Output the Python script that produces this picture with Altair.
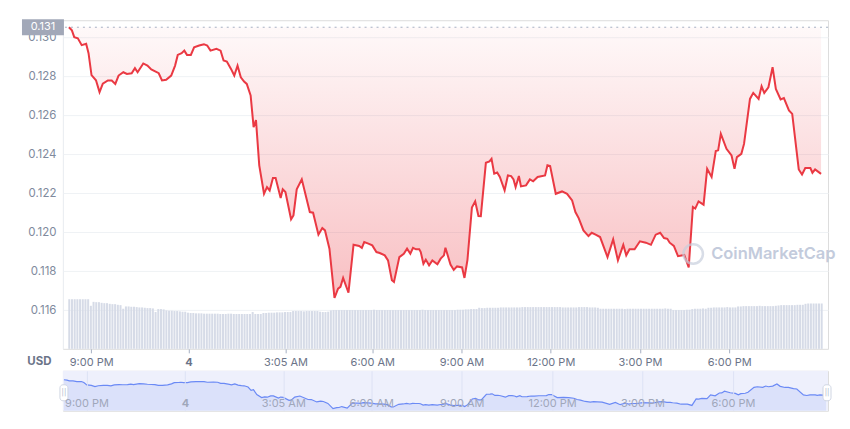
import altair as alt
import pandas as pd

# ---------------- data ----------------
hours = [
    -4.20, -4.10, -4.02, -3.90, -3.77, -3.62, -3.54, -3.44, -3.29, -3.17,
    -3.06, -2.89, -2.76, -2.64, -2.53, -2.37, -2.25, -2.09, -1.98, -1.89,
    -1.70, -1.56, -1.43, -1.18, -1.07, -0.93, -0.76, -0.63, -0.54, -0.41,
    -0.32, -0.23, -0.10, 0.01, 0.18, 0.34, 0.45, 0.56, 0.76, 0.90,
    1.00, 1.11, 1.25, 1.36, 1.47, 1.58, 1.69, 1.78, 1.91, 2.01,
    2.09, 2.20, 2.36, 2.46, 2.55, 2.66, 2.75, 2.92, 2.99, 3.08,
    3.27, 3.35, 3.46, 3.63, 3.90, 4.01, 4.19, 4.32, 4.41, 4.56,
    4.73, 4.85, 4.93, 5.02, 5.20, 5.37, 5.56, 5.65, 5.73, 5.87,
    6.00, 6.14, 6.25, 6.42, 6.53, 6.66, 6.73, 6.91, 7.06, 7.17,
    7.28, 7.37, 7.47, 7.58, 7.63, 7.72, 7.80, 7.91, 8.02, 8.19,
    8.30, 8.41, 8.46, 8.63, 8.74, 8.85, 9.02, 9.10, 9.20, 9.35,
    9.46, 9.57, 9.65, 9.82, 9.94, 10.01, 10.10, 10.20, 10.29, 10.45,
    10.56, 10.67, 10.75, 10.82, 10.93, 11.00, 11.17, 11.30, 11.41, 11.56,
    11.81, 11.89, 11.98, 12.17, 12.38, 12.55, 12.72, 12.83, 12.94, 13.10,
    13.27, 13.38, 13.51, 13.66, 13.91, 14.10, 14.26, 14.44, 14.54, 14.65,
    14.82, 15.00, 15.20, 15.37, 15.53, 15.68, 15.81, 15.92, 16.00, 16.14,
    16.28, 16.49, 16.64, 16.78, 16.86, 16.97, 17.14, 17.26, 17.41, 17.55,
    17.63, 17.72, 17.91, 18.08, 18.18, 18.26, 18.41, 18.50, 18.70, 18.81,
    18.99, 19.09, 19.18, 19.32, 19.46, 19.57, 19.73, 19.84, 20.01, 20.12,
    20.34, 20.45, 20.56, 20.73, 20.80, 20.89, 21.09,
]

prices = [
    0.13053, 0.13037, 0.13002, 0.12996, 0.12961, 0.12968, 0.12920, 0.12807, 0.12781, 0.12720,
    0.12763, 0.12780, 0.12780, 0.12762, 0.12805, 0.12822, 0.12813, 0.12817, 0.12843, 0.12822,
    0.12867, 0.12856, 0.12836, 0.12817, 0.12780, 0.12783, 0.12805, 0.12856, 0.12911, 0.12920,
    0.12933, 0.12911, 0.12911, 0.12950, 0.12959, 0.12966, 0.12959, 0.12933, 0.12942, 0.12933,
    0.12882, 0.12877, 0.12839, 0.12805, 0.12856, 0.12796, 0.12774, 0.12762, 0.12703, 0.12540,
    0.12576, 0.12344, 0.12198, 0.12232, 0.12215, 0.12279, 0.12279, 0.12176, 0.12221, 0.12207,
    0.12067, 0.12087, 0.12221, 0.12272, 0.12104, 0.12101, 0.11988, 0.12022, 0.12010, 0.11916,
    0.11663, 0.11711, 0.11720, 0.11766, 0.11690, 0.11936, 0.11930, 0.11920, 0.11950, 0.11942,
    0.11933, 0.11899, 0.11894, 0.11882, 0.11856, 0.11754, 0.11745, 0.11873, 0.11890, 0.11916,
    0.11890, 0.11920, 0.11913, 0.11913, 0.11899, 0.11839, 0.11860, 0.11831, 0.11856, 0.11836,
    0.11865, 0.11882, 0.11921, 0.11835, 0.11807, 0.11825, 0.11820, 0.11766, 0.11858, 0.12127,
    0.12159, 0.12084, 0.12083, 0.12357, 0.12364, 0.12377, 0.12301, 0.12307, 0.12284, 0.12215,
    0.12292, 0.12289, 0.12272, 0.12232, 0.12289, 0.12236, 0.12241, 0.12272, 0.12262, 0.12284,
    0.12292, 0.12344, 0.12340, 0.12198, 0.12210, 0.12198, 0.12164, 0.12104, 0.12073, 0.12010,
    0.11981, 0.11998, 0.11988, 0.11976, 0.11873, 0.11964, 0.11856, 0.11936, 0.11882, 0.11913,
    0.11913, 0.11954, 0.11947, 0.11936, 0.11988, 0.11998, 0.11971, 0.11967, 0.11947, 0.11930,
    0.11878, 0.11884, 0.11820, 0.12130, 0.12122, 0.12159, 0.12142, 0.12326, 0.12284, 0.12417,
    0.12421, 0.12506, 0.12429, 0.12395, 0.12326, 0.12386, 0.12403, 0.12454, 0.12685, 0.12716,
    0.12685, 0.12750, 0.12716, 0.12745, 0.12848, 0.12736, 0.12682, 0.12689, 0.12626, 0.12608,
    0.12323, 0.12297, 0.12330, 0.12330, 0.12306, 0.12323, 0.12300,
]

volumes = [
    15.1, 15.1, 15.1, 15.1, 15.1, 15.1, 15.1, 15.1,
    13.1,
    14.3, 14.2, 14.2, 14.0, 13.9, 13.9, 13.7, 13.6, 13.6, 13.4, 13.3,
    12.2,
    12.9, 12.9, 12.8, 12.8, 12.7, 12.6, 12.6, 12.5, 12.4, 12.4, 12.3,
    11.2,
    12.1, 12.1, 12.0,
    11.7, 11.6, 11.6, 11.5, 11.5, 11.4, 11.3, 11.3,
    11.0, 10.9, 10.9, 10.8, 10.8, 10.8, 10.7, 10.7, 10.7, 10.7, 10.7, 10.7,
    10.6, 10.6, 10.6, 10.7, 10.7, 10.6, 10.6, 10.6, 10.6, 10.6, 10.6, 10.6,
    11.2,
    10.6, 10.6, 10.6,
    10.9, 10.9, 11.0, 11.0, 11.0, 11.1, 11.1, 11.1, 11.2, 11.2, 11.2,
    11.5, 11.5, 11.5, 11.5, 11.4, 11.5, 11.5, 11.5, 11.5, 11.5,
    11.3, 11.2, 11.2, 11.3,
    11.7, 11.8, 11.8, 11.8, 11.8, 11.8, 11.8, 11.8, 11.8, 11.8,
    11.8, 11.8, 11.8, 11.8, 11.8, 11.8, 11.9, 11.8, 11.8, 11.8,
    11.8, 11.8, 11.8, 11.8, 11.8, 11.8, 11.8, 11.8, 11.8, 11.8,
    11.8, 11.8, 11.8, 11.8, 11.9, 11.8, 11.8, 11.8, 11.8, 11.8,
    11.8, 11.8, 11.8, 11.8, 11.8, 11.8, 11.8, 11.9, 11.9, 11.9,
    12.0, 12.0,
    12.1, 12.1, 12.1,
    12.5,
    12.4, 12.4, 12.5, 12.5, 12.5, 12.5, 12.5, 12.6, 12.6, 12.6,
    12.6, 12.6, 12.6, 12.6, 12.6, 12.7, 12.7, 12.7, 12.7, 12.7,
    12.7, 12.7, 12.7, 12.7, 12.7, 12.7, 12.7, 12.7, 12.7, 12.7,
    12.6, 12.6, 12.6, 12.6, 12.6, 12.6, 12.7, 12.7, 12.7, 12.7,
    12.6, 12.6, 12.6, 12.5,
    12.2, 12.2, 12.2, 12.2, 12.2, 12.2, 12.2, 12.2, 12.2, 12.1,
    12.2, 12.2, 12.2, 12.2, 12.2, 12.2, 12.2, 12.2, 12.2, 12.2,
    12.2, 12.2, 12.2, 12.2, 12.3, 12.2, 12.2,
    11.8, 11.8, 11.8, 11.8, 11.8, 11.9, 11.9,
    12.1, 12.2, 12.2, 12.2, 12.3, 12.2,
    12.5, 12.5, 12.6, 12.6, 12.6, 12.6, 12.6, 12.7, 12.6, 12.6, 12.6,
    12.9, 12.9, 13.0, 13.0, 13.0, 13.0, 13.0, 13.0, 13.1, 13.0, 13.0, 13.0, 13.0, 13.0, 13.1,
    13.2, 13.3, 13.3, 13.3, 13.3, 13.3, 13.3, 13.4, 13.4, 13.4,
    13.7, 13.8, 13.8, 13.8, 13.8, 13.8, 13.8,
]

tick_values = [-3.45, -0.18, 3.08, 6, 9, 12, 15, 18]
tick_labels = ["9:00 PM", "4", "3:05 AM", "6:00 AM", "9:00 AM", "12:00 PM", "3:00 PM", "6:00 PM"]
price_ticks = [0.116, 0.118, 0.120, 0.122, 0.124, 0.126, 0.128, 0.130]

X_DOMAIN = [-4.233, 21.156]
PRICE_DOMAIN = [0.11402, 0.13089]
VOL_DOMAIN = [0, 100]
NAV_DOMAIN = [0.11564, 0.13481]

W, H, NAV_H = 766, 329, 40
FONT = "Inter"
RED = "#ea3943"

base = prices[0]
price_df = pd.DataFrame({"t": hours, "p": prices})
step = (X_DOMAIN[1] - X_DOMAIN[0]) / len(volumes)
vol_df = pd.DataFrame({
    "t": [X_DOMAIN[0] + (i + 0.5) * step for i in range(len(volumes))],
    "v": volumes,
})
base_df = pd.DataFrame({"b": [base]})
one = pd.DataFrame({"a": [0]})

# label expression built from the tick arrays
label_expr = "''"
for i in range(len(tick_values) - 1, -1, -1):
    label_expr = f"(abs(datum.value - ({tick_values[i]})) < 0.001 ? '{tick_labels[i]}' : {label_expr})"
bold_test = f"abs(datum.value - ({tick_values[1]})) < 0.001"
bold_cond = {"condition": {"test": bold_test, "value": "bold"}, "value": "normal"}

xscale = alt.Scale(domain=X_DOMAIN, nice=False, zero=False)
pscale = alt.Scale(domain=PRICE_DOMAIN, nice=False, zero=False)

x_axis_main = alt.Axis(
    values=tick_values, labelExpr=label_expr, tickSize=4, tickColor="#a6b0c3",
    domain=False, grid=False, labelColor="#6b7488", labelFontSize=11, labelFont=FONT,
    labelPadding=4, labelFlush=False, labelOverlap=False, labelFontWeight=bold_cond,
    title="USD", titleX=-12, titleY=13, titleAlign="right", titleBaseline="middle",
    titleAngle=0, titleFontWeight="bold", titleColor="#6b7488", titleFontSize=11.5,
    titleFont=FONT)
y_axis_main = alt.Axis(
    values=price_ticks, format=".3f", grid=True, gridColor="#eff2f5",
    domain=True, domainColor="#eceff4", ticks=False,
    labelPadding=7, labelColor="#808a9d", labelFontSize=11.5, labelFont=FONT,
    title=None)

X_MAIN = alt.X("t:Q", scale=xscale, axis=x_axis_main)

# ---------------- main panel ----------------
vol_bars = alt.Chart(vol_df).mark_bar(color="#d6dbe7", size=2).encode(
    x=X_MAIN,
    y=alt.Y("v:Q", scale=alt.Scale(domain=VOL_DOMAIN, nice=False), axis=None),
)

gradient = alt.Gradient(
    gradient="linear",
    stops=[
        alt.GradientStop(color="rgba(234,57,67,0.03)", offset=0),
        alt.GradientStop(color="rgba(234,57,67,0.32)", offset=1),
    ],
    x1=1, x2=1, y1=0, y2=1,
)

area = alt.Chart(price_df).mark_area(color=gradient).encode(
    x=X_MAIN,
    y=alt.Y("p:Q", scale=pscale, axis=y_axis_main),
    y2=alt.datum(base),
)

base_rule = alt.Chart(base_df).mark_rule(color="#a6b0c3", strokeDash=[2, 4], strokeWidth=1).encode(
    y=alt.Y("b:Q", scale=pscale, axis=y_axis_main),
)

line = alt.Chart(price_df).mark_line(color=RED, strokeWidth=2).encode(
    x=X_MAIN,
    y=alt.Y("p:Q", scale=pscale, axis=y_axis_main),
)

box = alt.Chart(base_df).transform_calculate(
    top="datum.b + 0.00041", bot="datum.b - 0.00041"
).mark_rect(color="#a2a8b8").encode(
    x=alt.value(-41), x2=alt.value(1),
    y=alt.Y("top:Q", scale=pscale, axis=y_axis_main), y2="bot:Q",
)
box_text = alt.Chart(base_df).mark_text(
    text=f"{base:.3f}", color="#ffffff", fontSize=11, font=FONT, align="center", baseline="middle"
).encode(x=alt.value(-20), y=alt.Y("b:Q", scale=pscale, axis=y_axis_main))

wm_ring = alt.Chart(one).mark_point(
    shape="circle", size=380, filled=False, color="#c8cfdd", strokeWidth=2.5
).encode(x=alt.value(631), y=alt.value(234))
wm_text = alt.Chart(one).mark_text(
    text="CoinMarketCap", color="#c3cbdc", fontSize=16.5, fontWeight=600, font=FONT,
    align="left", baseline="middle"
).encode(x=alt.value(649), y=alt.value(234))

price_layers = alt.layer(area, base_rule, line, box, box_text, wm_ring, wm_text)
main = alt.layer(vol_bars, price_layers).resolve_scale(y="independent").properties(width=W, height=H)

# ---------------- navigator ----------------
nscale = alt.Scale(domain=NAV_DOMAIN, nice=False, zero=False)
x_axis_nav = alt.Axis(
    values=tick_values, labelExpr=label_expr, grid=True, gridColor="#dde2f4",
    domain=False, ticks=False, labelPadding=-13,
    labelColor="#a0a7ba", labelFontSize=11, labelFont=FONT, labelFontWeight=bold_cond,
    labelFlush=False, labelOverlap=False, title=None, zindex=1)
X_NAV = alt.X("t:Q", scale=xscale, axis=x_axis_nav)

nav_bg = alt.Chart(one).mark_rect(color="#eef0fc").encode(
    x=alt.value(0), x2=alt.value(W), y=alt.value(0), y2=alt.value(NAV_H)
)
nav_area = alt.Chart(price_df).mark_area(color="#5b7bf0", opacity=0.13).encode(
    x=X_NAV,
    y=alt.Y("p:Q", scale=nscale, axis=None),
    y2=alt.datum(NAV_DOMAIN[0]),
)
nav_line = alt.Chart(price_df).mark_line(color="#6b8af5", strokeWidth=1.2).encode(
    x=X_NAV,
    y=alt.Y("p:Q", scale=nscale, axis=None),
)
handles = []
for hx in (1, W - 1):
    handles.append(alt.Chart(one).mark_rect(
        fill="#ffffff", stroke="#cfd5e2", strokeWidth=1, cornerRadius=3
    ).encode(x=alt.value(hx - 4), x2=alt.value(hx + 4), y=alt.value(14), y2=alt.value(30)))
    handles.append(alt.Chart(one).mark_text(
        text="||", fontSize=7, color="#a6b0c3", align="center", baseline="middle"
    ).encode(x=alt.value(hx), y=alt.value(22)))

nav = alt.layer(nav_bg, nav_area, nav_line, *handles).properties(width=W, height=NAV_H)

chart = alt.vconcat(main, nav, spacing=1).properties(
    padding={"left": 13, "top": 10, "right": 5, "bottom": 5},
    background="#ffffff",
).configure_view(stroke=None).configure(font=FONT)

chart.save("out.html", embed_options={"renderer": "svg", "actions": False})
